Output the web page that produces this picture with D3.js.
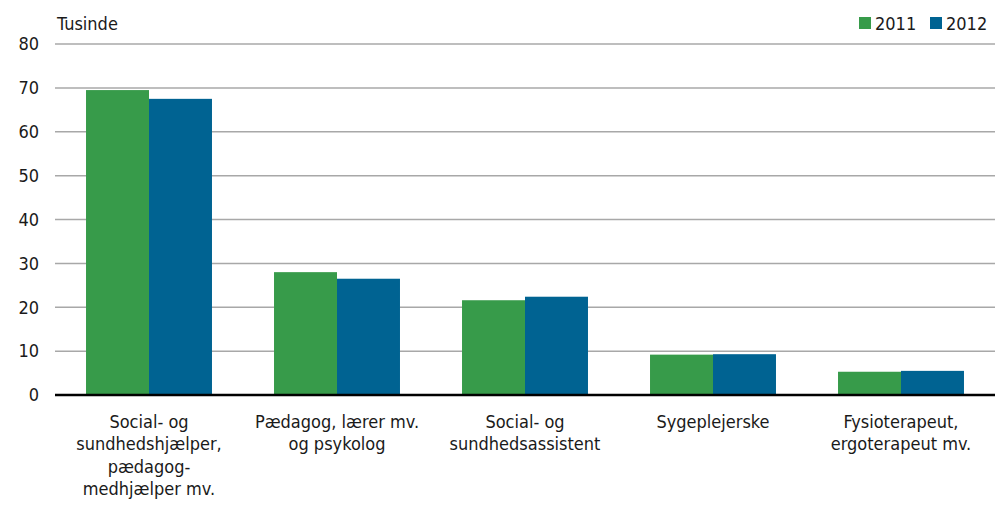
<!DOCTYPE html>
<html><head><meta charset="utf-8">
<script src="https://cdn.jsdelivr.net/npm/d3@7"></script>
<style>body{margin:0;background:#fff}svg{display:block}text{font-family:"Liberation Sans Narrow","DejaVu Sans Condensed",sans-serif;fill:#1a1a1a}</style>
</head><body>
<script>
const categories = [
  ["Social- og","sundhedshjælper,","pædagog-","medhjælper mv."],
  ["Pædagog, lærer mv.","og psykolog"],
  ["Social- og","sundhedsassistent"],
  ["Sygeplejerske"],
  ["Fysioterapeut,","ergoterapeut mv."]
];
const seriesNames = ["2011","2012"];
const values2011 = [69.5, 28.0, 21.6, 9.2, 5.3];
const values2012 = [67.5, 26.5, 22.4, 9.3, 5.5];
const yTicks = [0,10,20,30,40,50,60,70,80];
const colors = ["#379b4a","#006392"];
const unitLabel = "Tusinde";

const W=998,H=508, L=55, R=995, T=44, B=395;
const svg=d3.select("body").append("svg").attr("width",W).attr("height",H);
const idx=d3.range(categories.length);
const x0=d3.scaleBand().domain(idx).range([L,R]).paddingInner(0.33).paddingOuter(0.165);
const x1=d3.scaleBand().domain([0,1]).range([0,x0.bandwidth()]);
const y=d3.scaleLinear().domain([0,80]).range([B,T]);

// gridlines
svg.append("g").selectAll("line").data(yTicks.filter(d=>d>0)).join("line")
  .attr("x1",L).attr("x2",R).attr("y1",d=>y(d)).attr("y2",d=>y(d))
  .attr("stroke","#a8a8a8").attr("stroke-width",1.5);

// y axis labels
const ya=svg.append("g").attr("transform",`translate(${L},0)`)
  .call(d3.axisLeft(y).tickValues(yTicks).tickSize(0).tickPadding(16));
ya.select(".domain").remove();
ya.selectAll("text").style("font-size","18px").attr("fill","#1a1a1a")
  .style("font-family",'"Liberation Sans Narrow","DejaVu Sans Condensed",sans-serif');

// bars
const series=[values2011,values2012];
series.forEach((vals,s)=>{
  svg.append("g").selectAll("rect").data(vals).join("rect")
    .attr("x",(d,i)=>x0(i)+x1(s)).attr("width",x1.bandwidth())
    .attr("y",d=>y(d)).attr("height",d=>B-y(d)).attr("fill",colors[s]);
});

// x axis
svg.append("line").attr("x1",L).attr("x2",R).attr("y1",B).attr("y2",B)
  .attr("stroke","#000").attr("stroke-width",2.5);

// category labels
const cl=svg.append("g").selectAll("text").data(categories).join("text")
  .attr("x",(d,i)=>x0(i)+x0.bandwidth()/2).attr("y",428)
  .attr("text-anchor","middle").style("font-size","18px");
cl.selectAll("tspan").data(d=>d).join("tspan")
  .attr("x",function(){return this.parentNode.getAttribute("x");})
  .attr("dy",(d,i)=>i===0?0:22.3).text(d=>d);

// unit label
svg.append("text").attr("x",57).attr("y",30).style("font-size","18px").text(unitLabel);

// legend
const legX=[859,930];
seriesNames.forEach((n,i)=>{
  svg.append("rect").attr("x",legX[i]).attr("y",17).attr("width",12).attr("height",12).attr("fill",colors[i]);
  svg.append("text").attr("x",legX[i]+16).attr("y",30).style("font-size","18px").text(n);
});
</script>
</body></html>
